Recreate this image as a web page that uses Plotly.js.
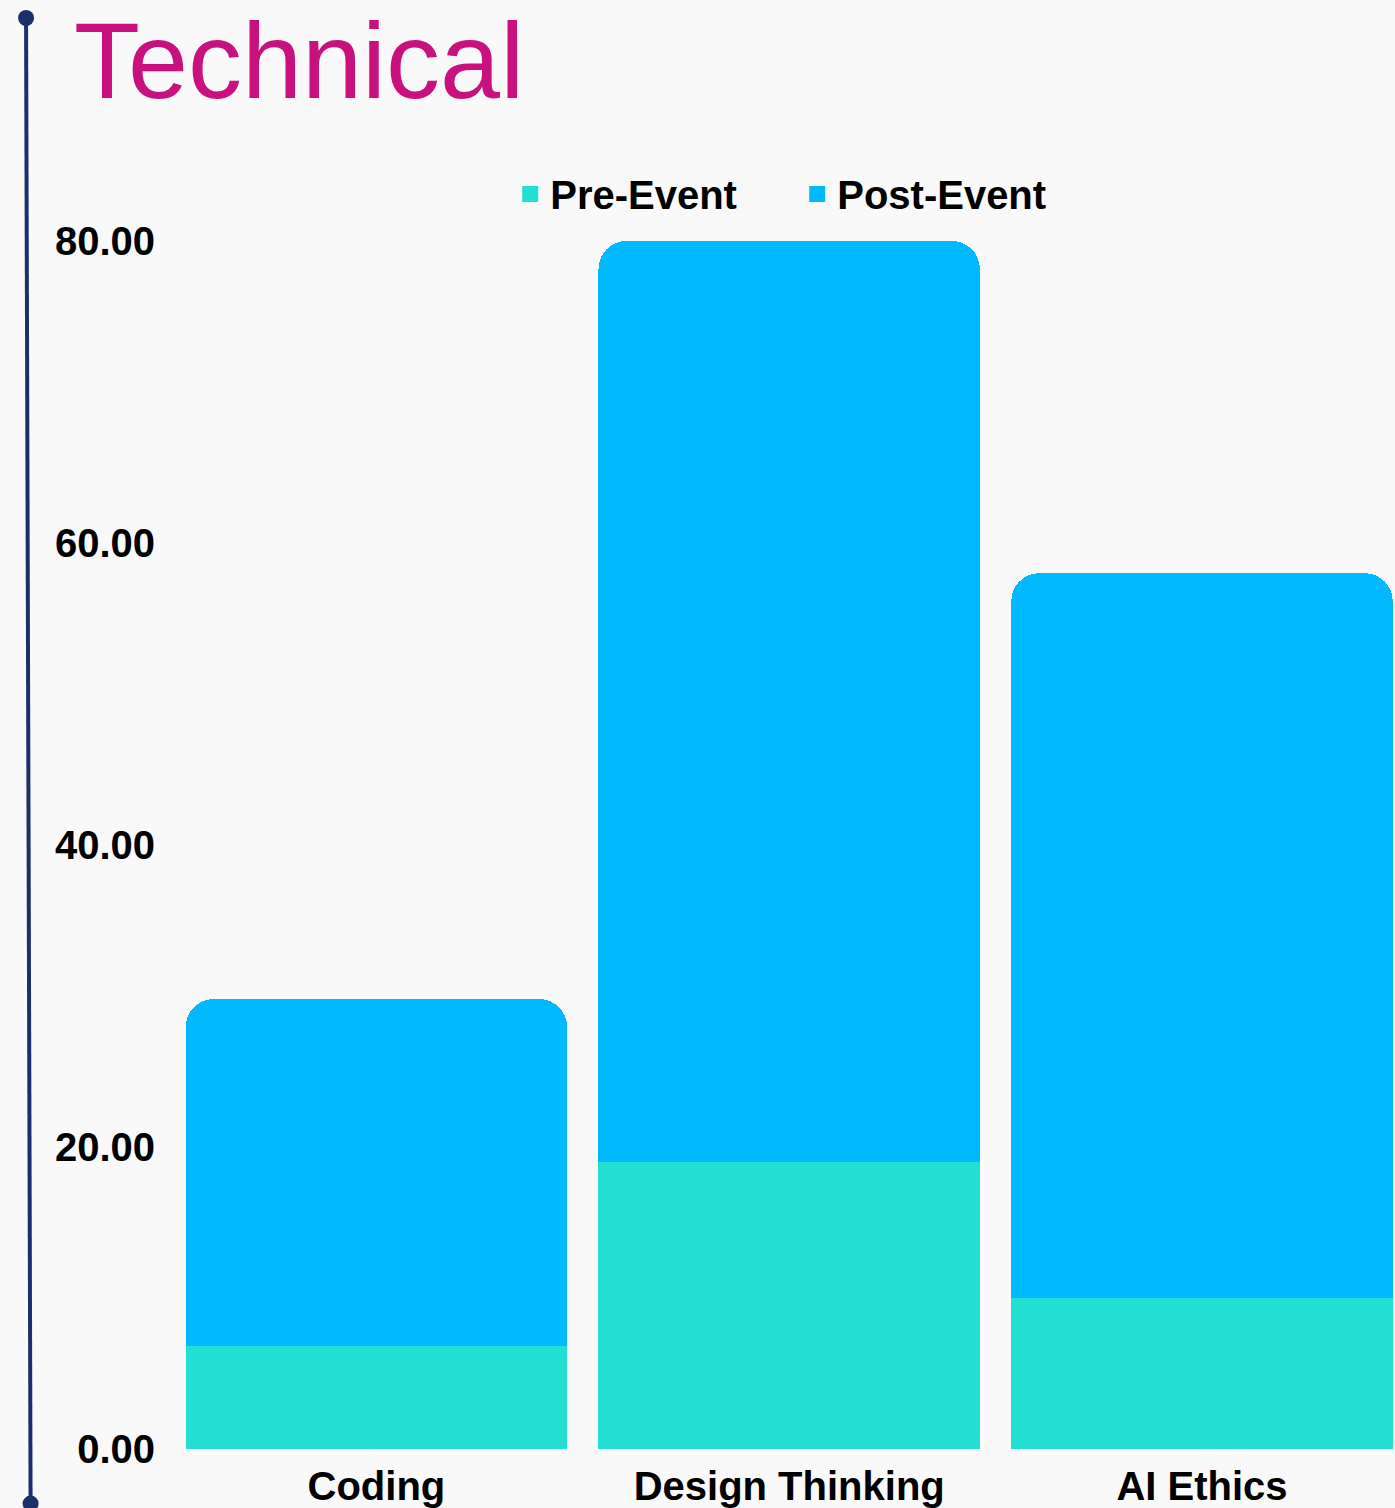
<!DOCTYPE html>
<html>
<head>
<meta charset="utf-8">
<script src="https://cdn.plot.ly/plotly-3.0.1.min.js"></script>
<style>
html,body{margin:0;padding:0;background:#f9f9f9;}
#chart{width:1395px;height:1508px;}
</style>
</head>
<body>
<div id="chart"></div>
<script>
const categories = ["Coding", "Design Thinking", "AI Ethics"];
const preEvent = [6.8, 19, 10];
const postEvent = [23, 61, 48];
const seriesNames = ["Pre-Event", "Post-Event"];
const yTicks = [0, 20, 40, 60, 80];
const chartTitle = "Technical";

const preColor = "#22ded3";
const postColor = "#00b9ff";
const navy = "#1b2f6b";
const font = "Liberation Sans, Arial, sans-serif";

const traces = [
  {type: "bar", name: seriesNames[0], x: categories, y: preEvent,
   marker: {color: preColor, line: {width: 0}}, showlegend: false, hoverinfo: "x+y"},
  {type: "bar", name: seriesNames[1], x: categories, y: postEvent,
   marker: {color: postColor, line: {width: 0}}, showlegend: false, hoverinfo: "x+y"},
  {type: "scatter", mode: "markers", name: seriesNames[0], x: [categories[0]], y: [null],
   marker: {symbol: "square", size: 16, color: preColor, line: {width: 0}}, hoverinfo: "skip"},
  {type: "scatter", mode: "markers", name: seriesNames[1], x: [categories[0]], y: [null],
   marker: {symbol: "square", size: 16, color: postColor, line: {width: 0}}, hoverinfo: "skip"}
];

const layout = {
  width: 1395, height: 1508,
  paper_bgcolor: "#f9f9f9", plot_bgcolor: "#f9f9f9",
  margin: {l: 170, r: 0, t: 241, b: 59, pad: 0},
  barmode: "stack", bargap: 0.076, barcornerradius: 28,
  font: {family: font, size: 40, color: "#000"},
  title: {text: chartTitle, font: {family: font, size: 108, color: "#c8117f"},
          x: 0.053, xanchor: "left", xref: "container", y: 0.985, yanchor: "top", yref: "container"},
  xaxis: {type: "category", range: [-0.5, 2.4675], showgrid: false, zeroline: false, showline: false,
          ticks: "", ticklabelstandoff: 10,
          tickfont: {family: font, size: 40, color: "#000", weight: "bold"}, fixedrange: true},
  yaxis: {range: [0, 80], tickvals: yTicks, tickformat: ".2f", showgrid: false, zeroline: false,
          showline: false, ticks: "", ticklabelstandoff: 14,
          tickfont: {family: font, size: 40, color: "#000", weight: "bold"}, fixedrange: true},
  legend: {orientation: "h", traceorder: "normal", x: 0.512, xanchor: "center", y: 1.039, yanchor: "middle",
           font: {family: font, size: 40, color: "#000", weight: "bold"},
           bgcolor: "rgba(0,0,0,0)", entrywidth: 242, entrywidthmode: "pixels"},
  shapes: [
    {type: "line", xref: "paper", yref: "paper", x0: -0.1175, y0: 1.1846, x1: -0.1138, y1: -0.0452,
     line: {color: navy, width: 4}},
    {type: "circle", xref: "paper", yref: "paper", xsizemode: "pixel", ysizemode: "pixel",
     xanchor: -0.1175, yanchor: 1.1846, x0: -8, x1: 8, y0: -8, y1: 8,
     fillcolor: navy, line: {width: 0}},
    {type: "circle", xref: "paper", yref: "paper", xsizemode: "pixel", ysizemode: "pixel",
     xanchor: -0.1138, yanchor: -0.0452, x0: -8, x1: 8, y0: -8, y1: 8,
     fillcolor: navy, line: {width: 0}}
  ]
};

Plotly.newPlot("chart", traces, layout, {displayModeBar: false});
</script>
</body>
</html>
